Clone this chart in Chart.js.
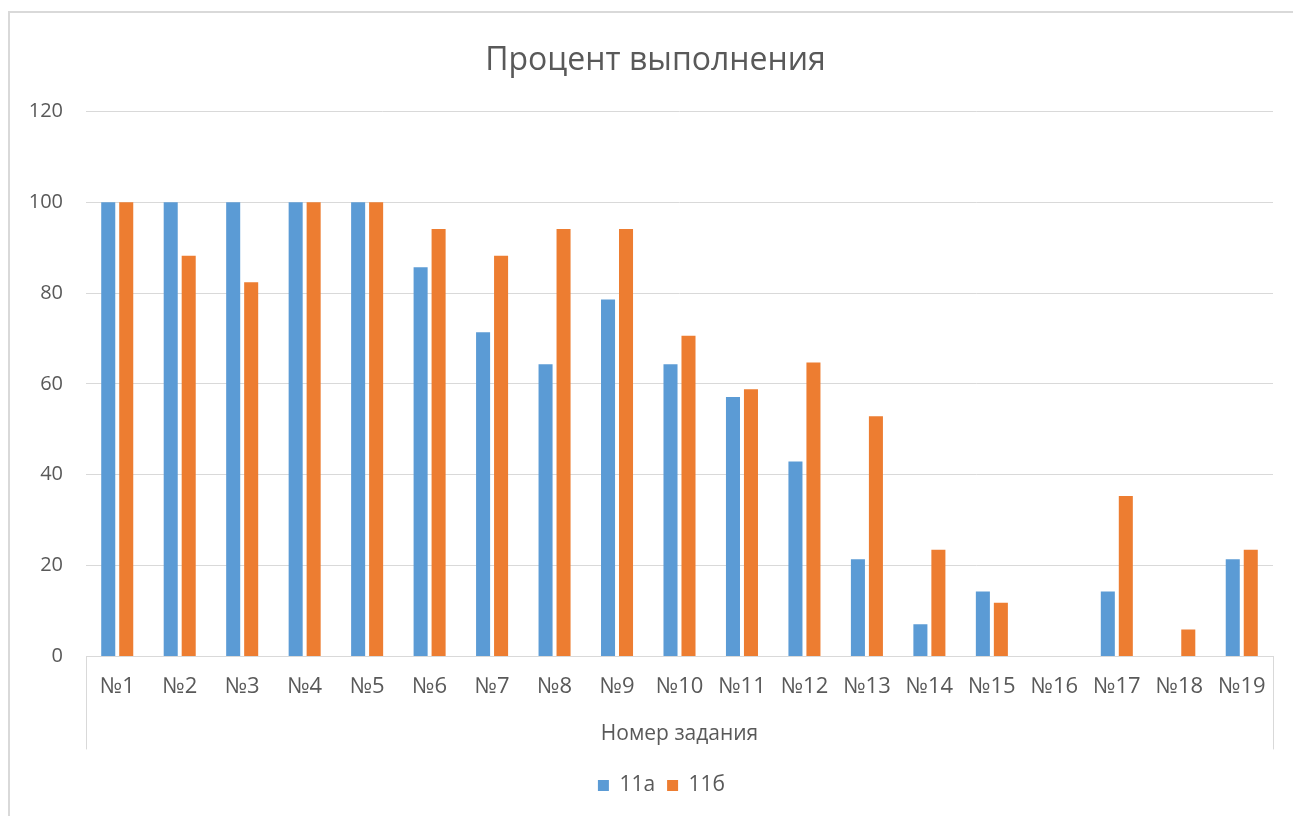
<!DOCTYPE html>
<html lang="ru">
<head>
    <meta charset="UTF-8">
    <title>Процент выполнения</title>
    <script src="https://cdn.jsdelivr.net/npm/chart.js"></script>
    <style>
        body {
            margin: 0;
            background: #fff;
            overflow: hidden;
        }
        .frame {
            position: absolute;
            left: 8px;
            top: 11px;
            width: 1300px;
            height: 820px;
            border: 2px solid #d9d9d9;
        }
        .wrap {
            position: absolute;
            left: 0;
            top: 0;
            width: 1293px;
            height: 816px;
        }
    </style>
</head>
<body>
    <div class="frame"></div>
    <div class="wrap"><canvas id="chart"></canvas></div>

    <script>
        const labels = ['№1', '№2', '№3', '№4', '№5', '№6', '№7', '№8', '№9', '№10',
                        '№11', '№12', '№13', '№14', '№15', '№16', '№17', '№18', '№19'];
        const class11a = [100, 100, 100, 100, 100, 85.7, 71.4, 64.3, 78.6, 64.3,
                          57.1, 42.9, 21.4, 7.1, 14.3, 0, 14.3, 0, 21.4];
        const class11b = [100, 88.2, 82.4, 100, 100, 94.1, 88.2, 94.1, 94.1, 70.6,
                          58.8, 64.7, 52.9, 23.5, 11.8, 0, 35.3, 5.9, 23.5];
        const yTicks = [0, 20, 40, 60, 80, 100, 120];

        const textColor = '#595959';
        const lineColor = '#d9d9d9';
        const fontFamily = '"Open Sans", "Noto Sans", sans-serif';

        // title and legend sit a bit right of the canvas centre, like in Excel
        const shiftBlocks = {
            id: 'shiftBlocks',
            afterLayout(chart) {
                if (chart.titleBlock) chart.titleBlock.left = 38;
                if (chart.legend) chart.legend.left = 50;
            }
        };

        // Excel-style lines at both ends of the category axis
        const axisEnds = {
            id: 'axisEnds',
            afterDraw(chart) {
                const { ctx, chartArea } = chart;
                ctx.save();
                ctx.strokeStyle = lineColor;
                ctx.lineWidth = 1;
                ctx.beginPath();
                [chartArea.left, chartArea.right].forEach(x => {
                    ctx.moveTo(Math.round(x) + 0.5, chartArea.bottom);
                    ctx.lineTo(Math.round(x) + 0.5, chartArea.bottom + 93);
                });
                ctx.stroke();
                ctx.restore();
            }
        };

        new Chart(document.getElementById('chart'), {
            type: 'bar',
            data: {
                labels: labels,
                datasets: [
                    { label: '11а', data: class11a, backgroundColor: '#5B9BD5' },
                    { label: '11б', data: class11b, backgroundColor: '#ED7D31' }
                ]
            },
            options: {
                responsive: true,
                maintainAspectRatio: false,
                animation: false,
                categoryPercentage: 0.576,
                barPercentage: 0.78,
                layout: { padding: { top: 30, right: 20, bottom: 10, left: 0 } },
                plugins: {
                    title: {
                        display: true,
                        text: 'Процент выполнения',
                        color: textColor,
                        font: { family: fontFamily, size: 32, weight: 'normal' },
                        padding: { top: 12, bottom: 31 }
                    },
                    legend: {
                        position: 'bottom',
                        labels: {
                            color: textColor,
                            font: { family: fontFamily, size: 21 },
                            boxWidth: 11,
                            boxHeight: 11,
                            padding: 12
                        }
                    },
                    tooltip: { enabled: false }
                },
                scales: {
                    x: {
                        grid: { display: false, drawTicks: false },
                        border: { display: true, color: lineColor },
                        ticks: {
                            color: textColor,
                            font: { family: fontFamily, size: 22 },
                            padding: 17,
                            maxRotation: 0,
                            autoSkip: false
                        },
                        title: {
                            display: true,
                            text: 'Номер задания',
                            color: textColor,
                            font: { family: fontFamily, size: 21 },
                            padding: { top: 5, bottom: 16 }
                        }
                    },
                    y: {
                        min: 0,
                        max: 120,
                        afterFit(scale) { scale.width = 86; },
                        afterBuildTicks(scale) { scale.ticks = yTicks.map(v => ({ value: v })); },
                        grid: { color: lineColor, drawTicks: false },
                        border: { display: false },
                        ticks: {
                            color: textColor,
                            font: { family: fontFamily, size: 20 },
                            padding: 23
                        }
                    }
                }
            },
            plugins: [shiftBlocks, axisEnds]
        });
    </script>
</body>
</html>
